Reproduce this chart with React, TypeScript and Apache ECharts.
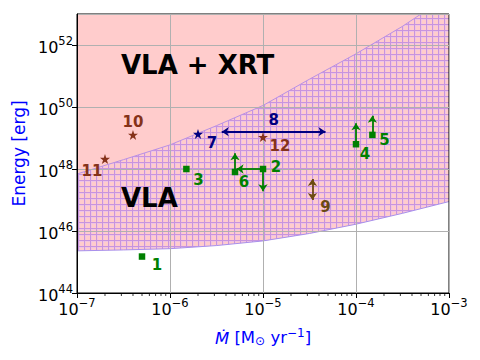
import React, { useEffect, useRef } from 'react';
import * as echarts from 'echarts';

const FONT = 'DejaVu Sans';

// Boundary curves of the shaded regions
const lowerMdot = [1e-7, 3.16e-7, 1e-6, 3.16e-6, 1e-5, 3.16e-5, 1e-4, 3.16e-4, 1e-3];
const lowerE = [2.29e45, 2.45e45, 2.69e45, 3.39e45, 4.79e45, 8.32e45, 1.66e46, 3.72e46, 8.91e46];
const upperMdot = [1e-7, 3.16e-7, 1e-6, 3.16e-6, 1e-5, 3.16e-5, 1e-4, 3.16e-4, 5e-4];
const upperE = [6.9e47, 2.0e48, 6.0e48, 2.5e49, 1.12e50, 7.9e50, 5.2e51, 4.0e52, 1.0e53];

// Green squares
const sqIds = ['1', '2', '3', '4', '5', '6'];
const sqMdot = [5e-7, 1e-5, 1.5e-6, 1e-4, 1.5e-4, 5e-6];
const sqE = [1.5e45, 1e48, 1e48, 6.3e48, 1.26e49, 8e47];

// Navy star
const navyIds = ['7'];
const navyMdot = [2e-6];
const navyE = [1.35e49];

// Brown stars
const brownIds = ['10', '11', '12'];
const brownMdot = [4e-7, 2e-7, 1e-5];
const brownE = [1.26e49, 2.1e48, 1.07e49];

// Limit arrows (from -> to)
const greenArrowFrom = [[1e-5, 1e48], [1e-5, 1e48], [1e-4, 6.3e48], [1.5e-4, 1.26e49], [5e-6, 8e47]];
const greenArrowTo = [[1e-5, 1.9e47], [5.2e-6, 1e48], [1e-4, 3e49], [1.5e-4, 5.2e49], [5e-6, 3.2e48]];
// Ranges (double arrows)
const rangeIds = ['8', '9'];
const rangeFrom = [[3.6e-6, 1.6e49], [3.4e-5, 4.8e47]];
const rangeTo = [[4.7e-5, 1.6e49], [3.4e-5, 1e47]];

// Axis ticks
const xMinorMantissas = [2, 3, 4, 5, 6, 7, 8, 9];
const xMinorDecades = [1e-7, 1e-6, 1e-5, 1e-4];

// label offsets (styling)
const sqLabelOffset = [[15, 8], [13, -2], [12, 11], [9, 10], [12, 5], [9, 10]];
const navyLabelOffset = [[14, 9]];
const brownLabelOffset = [[0, -13], [-13, 12], [17, 9]];
const rangeLabelOffset = [[0, -12], [13, 7]];

const GREEN = '#008000';
const NAVY = '#000080';
const BROWN = '#85321a';
const DARKBROWN = '#6b4a12';

const STAR = 'path://M50,0 L61.8,35.1 L98.9,35.1 L69.1,56.7 L80.9,91.9 L50,70.3 L19.1,91.9 L30.9,56.7 L1.1,35.1 L38.2,35.1 Z';

function makeHatch() {
  const c = document.createElement('canvas');
  c.width = 6;
  c.height = 6;
  const ctx = c.getContext('2d')!;
  ctx.fillStyle = '#ffcccc';
  ctx.fillRect(0, 0, 6, 6);
  ctx.fillStyle = 'rgb(240,196,226)';
  ctx.fillRect(0, 1, 6, 1);
  ctx.fillRect(1, 0, 1, 6);
  ctx.fillStyle = 'rgb(200,148,222)';
  ctx.fillRect(0, 0, 6, 1);
  ctx.fillRect(0, 0, 1, 6);
  return c;
}

const supFmt = (v: number) => {
  const e = Math.round(Math.log10(v));
  const s = e < 0 ? '\u2212' + (-e) : String(e);
  return `{b|10}{s|${s}}`;
};

const tickRich = {
  b: { fontSize: 16, lineHeight: 20, verticalAlign: 'bottom', fontFamily: FONT, color: '#000' },
  s: { fontSize: 11.5, lineHeight: 12, verticalAlign: 'top', fontFamily: FONT, color: '#000' },
};

export default function App() {
  const ref = useRef<HTMLDivElement>(null);
  useEffect(() => {
    if (!ref.current) return;
    const chart = echarts.init(ref.current, null, { renderer: 'svg' });
    const hatch = makeHatch();

    const minorTicks: number[][] = [];
    xMinorDecades.forEach((d) => xMinorMantissas.forEach((m) => minorTicks.push([m * d, 1e44])));

    const labelStyle = (color: string, text: string, off: number[]) => ({
      show: true,
      position: 'inside',
      offset: off,
      formatter: text,
      color,
      opacity: 1,
      fontFamily: FONT,
      fontWeight: 'bold',
      fontSize: 15,
    });

    const option: any = {
      animation: false,
      textStyle: { fontFamily: FONT },
      grid: {
        left: 77, right: 31, top: 14, bottom: 67,
        show: true, borderColor: '#000', borderWidth: 1, backgroundColor: 'transparent', z: 3,
      },
      xAxis: {
        type: 'log', logBase: 10, min: 1e-7, max: 1e-3, z: 3,
        axisLine: { show: true, lineStyle: { color: '#000', width: 1 } },
        axisTick: { show: true, length: 5, lineStyle: { color: '#000', width: 1 } },
        splitLine: { show: true, lineStyle: { color: '#b0b0b0', width: 1 } },
        minorTick: { show: false },
        axisLabel: { formatter: supFmt, rich: tickRich, margin: 4 },
        name: '{i|\u1E40} [M{sub|\u2299} yr{sup|\u22121}]',
        nameLocation: 'middle',
        nameGap: 34,
        nameTextStyle: {
          color: '#0000ff', fontSize: 16.5, fontFamily: FONT,
          rich: {
            i: { fontStyle: 'italic', fontSize: 16.5, color: '#0000ff', fontFamily: FONT, lineHeight: 20, verticalAlign: 'bottom' },
            sub: { fontSize: 12, color: '#0000ff', fontFamily: FONT, lineHeight: 12, verticalAlign: 'bottom' },
            sup: { fontSize: 12, color: '#0000ff', fontFamily: FONT, lineHeight: 12, verticalAlign: 'top' },
          },
        },
      },
      yAxis: {
        type: 'log', logBase: 10, min: 1e44, max: 1e53, interval: 2, z: 3,
        axisLine: { show: true, lineStyle: { color: '#000', width: 1 } },
        axisTick: { show: true, length: 5, lineStyle: { color: '#000', width: 1 } },
        splitLine: { show: true, lineStyle: { color: '#b0b0b0', width: 1 } },
        axisLabel: { formatter: supFmt, rich: tickRich, margin: 4, showMaxLabel: false },
        name: 'Energy [erg]',
        nameLocation: 'middle',
        nameGap: 49,
        nameRotate: 90,
        nameTextStyle: { color: '#0000ff', fontSize: 17, fontFamily: FONT },
      },
      graphic: [
        { type: 'text', left: 121, top: 52, z: 10, style: { text: 'VLA + XRT', font: `bold 26px "${FONT}"`, fill: '#000' } },
        { type: 'text', left: 121, top: 185, z: 10, style: { text: 'VLA', font: `bold 26px "${FONT}"`, fill: '#000' } },
      ],
      series: [
        {
          type: 'line', z: 1, silent: true, symbol: 'none',
          data: lowerMdot.map((x, i) => [x, lowerE[i]]),
          lineStyle: { color: '#a890ec', width: 1 },
          areaStyle: { color: { image: hatch, repeat: 'repeat', imageWidth: 6, imageHeight: 6 }, origin: 'end', opacity: 1 },
        },
        {
          type: 'line', z: 1, silent: true, symbol: 'none',
          data: upperMdot.map((x, i) => [x, upperE[i]]),
          lineStyle: { color: '#b890e4', width: 1 },
          areaStyle: { color: '#ffcccc', origin: 'end', opacity: 1 },
        },
        {
          type: 'custom', coordinateSystem: 'cartesian2d', clip: false, silent: true, z: 4,
          data: minorTicks,
          renderItem: (_p: any, api: any) => {
            const p = api.coord([api.value(0), api.value(1)]);
            return {
              type: 'line',
              shape: { x1: p[0], y1: p[1], x2: p[0], y2: p[1] + 3 },
              style: { stroke: '#000', lineWidth: 0.8 },
            };
          },
        },
        {
          type: 'lines', coordinateSystem: 'cartesian2d', z: 5, silent: true,
          symbol: ['none', 'arrow'], symbolSize: 7,
          lineStyle: { color: GREEN, width: 1.8, opacity: 1, curveness: 0 },
          data: greenArrowFrom.map((f, i) => ({ coords: [f, greenArrowTo[i]] })),
        },
        {
          type: 'lines', coordinateSystem: 'cartesian2d', z: 5, silent: true,
          symbol: ['arrow', 'arrow'], symbolSize: 7,
          data: rangeFrom.map((f, i) => ({
            coords: [f, rangeTo[i]],
            lineStyle: { color: i === 0 ? NAVY : DARKBROWN, width: 1.8, opacity: 1, curveness: 0 },
          })),
        },
        {
          type: 'scatter', z: 6, symbol: 'rect', symbolSize: 6.5,
          itemStyle: { color: GREEN, opacity: 1 },
          data: sqMdot.map((x, i) => ({ value: [x, sqE[i]], label: labelStyle(GREEN, sqIds[i], sqLabelOffset[i]) })),
        },
        {
          type: 'scatter', z: 6, symbol: STAR, symbolSize: 10,
          itemStyle: { color: NAVY, opacity: 1 },
          data: navyMdot.map((x, i) => ({ value: [x, navyE[i]], label: labelStyle(NAVY, navyIds[i], navyLabelOffset[i]) })),
        },
        {
          type: 'scatter', z: 6, symbol: STAR, symbolSize: 10,
          itemStyle: { color: BROWN, opacity: 1 },
          data: brownMdot.map((x, i) => ({ value: [x, brownE[i]], label: labelStyle(BROWN, brownIds[i], brownLabelOffset[i]) })),
        },
        {
          type: 'scatter', z: 6, symbol: 'circle', symbolSize: 2,
          itemStyle: { color: 'rgba(0,0,0,0)' },
          data: rangeIds.map((id, i) => {
            const a = i === 0
              ? [Math.sqrt(rangeFrom[i][0] * rangeTo[i][0]), rangeFrom[i][1]]
              : rangeTo[i];
            return { value: a, label: labelStyle(i === 0 ? NAVY : DARKBROWN, id, rangeLabelOffset[i]) };
          }),
        },
      ],
    };
    chart.setOption(option);
    return () => chart.dispose();
  }, []);
  return <div ref={ref} style={{ position: 'absolute', left: 0, top: 0, width: 480, height: 360 }} />;
}
